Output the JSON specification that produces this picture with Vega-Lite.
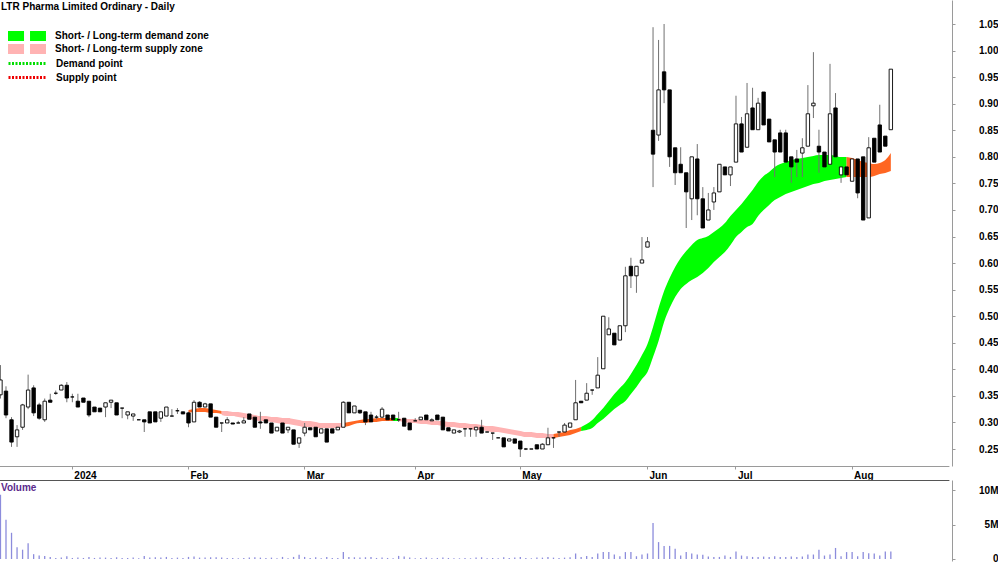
{
"$schema":"https://vega.github.io/schema/vega-lite/v6.json",
"padding":0,
"background":"#ffffff",
"spacing":0,
"config":{"view":{"stroke":null},"font":"Liberation Sans","axis":{"labelFont":"Liberation Sans","labelFontWeight":"bold","labelFontSize":10,"labelColor":"#000000","grid":false,"title":null,"labelOverlap":false},"legend":{"labelFont":"Liberation Sans","labelFontSize":10,"labelFontWeight":"bold","labelColor":"#000000","labelLimit":400,"titleLimit":400}},
"datasets":{
"px":[
{"d":"2023-12-11","o":0.352,"h":0.408,"l":0.345,"c":0.380,"v":9300000},
{"d":"2023-12-12","o":0.359,"h":0.368,"l":0.308,"c":0.314,"v":5700000},
{"d":"2023-12-13","o":0.305,"h":0.310,"l":0.254,"c":0.263,"v":3800000},
{"d":"2023-12-14","o":0.273,"h":0.295,"l":0.254,"c":0.286,"v":1700000},
{"d":"2023-12-15","o":0.291,"h":0.335,"l":0.286,"c":0.333,"v":1350000},
{"d":"2023-12-18","o":0.329,"h":0.390,"l":0.325,"c":0.361,"v":2300000},
{"d":"2023-12-19","o":0.365,"h":0.370,"l":0.312,"c":0.318,"v":700000},
{"d":"2023-12-20","o":0.333,"h":0.337,"l":0.305,"c":0.308,"v":500000},
{"d":"2023-12-21","o":0.305,"h":0.345,"l":0.301,"c":0.340,"v":450000},
{"d":"2023-12-22","o":0.342,"h":0.354,"l":0.338,"c":0.338,"v":300000},
{"d":"2023-12-27","o":0.355,"h":0.360,"l":0.352,"c":0.355,"v":150000},
{"d":"2023-12-28","o":0.361,"h":0.372,"l":0.361,"c":0.370,"v":200000},
{"d":"2023-12-29","o":0.370,"h":0.376,"l":0.338,"c":0.346,"v":400000},
{"d":"2024-01-02","o":0.348,"h":0.354,"l":0.338,"c":0.348,"v":150000},
{"d":"2024-01-03","o":0.340,"h":0.354,"l":0.329,"c":0.329,"v":200000},
{"d":"2024-01-04","o":0.346,"h":0.346,"l":0.338,"c":0.338,"v":150000},
{"d":"2024-01-05","o":0.340,"h":0.340,"l":0.310,"c":0.314,"v":300000},
{"d":"2024-01-08","o":0.329,"h":0.329,"l":0.320,"c":0.320,"v":150000},
{"d":"2024-01-09","o":0.327,"h":0.327,"l":0.320,"c":0.320,"v":200000},
{"d":"2024-01-10","o":0.329,"h":0.337,"l":0.310,"c":0.337,"v":200000},
{"d":"2024-01-11","o":0.338,"h":0.342,"l":0.327,"c":0.342,"v":150000},
{"d":"2024-01-12","o":0.337,"h":0.337,"l":0.314,"c":0.314,"v":250000},
{"d":"2024-01-15","o":0.327,"h":0.327,"l":0.308,"c":0.327,"v":150000},
{"d":"2024-01-16","o":0.314,"h":0.320,"l":0.306,"c":0.320,"v":150000},
{"d":"2024-01-17","o":0.312,"h":0.316,"l":0.303,"c":0.316,"v":200000},
{"d":"2024-01-18","o":0.305,"h":0.305,"l":0.305,"c":0.305,"v":100000},
{"d":"2024-01-19","o":0.305,"h":0.305,"l":0.282,"c":0.301,"v":450000},
{"d":"2024-01-22","o":0.320,"h":0.320,"l":0.299,"c":0.299,"v":200000},
{"d":"2024-01-23","o":0.320,"h":0.320,"l":0.301,"c":0.301,"v":250000},
{"d":"2024-01-24","o":0.308,"h":0.320,"l":0.301,"c":0.320,"v":200000},
{"d":"2024-01-25","o":0.312,"h":0.329,"l":0.312,"c":0.329,"v":300000},
{"d":"2024-01-29","o":0.312,"h":0.325,"l":0.312,"c":0.312,"v":150000},
{"d":"2024-01-30","o":0.322,"h":0.327,"l":0.316,"c":0.322,"v":200000},
{"d":"2024-01-31","o":0.320,"h":0.320,"l":0.316,"c":0.316,"v":150000},
{"d":"2024-02-01","o":0.318,"h":0.320,"l":0.291,"c":0.299,"v":300000},
{"d":"2024-02-02","o":0.301,"h":0.342,"l":0.301,"c":0.338,"v":350000},
{"d":"2024-02-05","o":0.338,"h":0.340,"l":0.329,"c":0.329,"v":200000},
{"d":"2024-02-06","o":0.329,"h":0.337,"l":0.329,"c":0.335,"v":200000},
{"d":"2024-02-07","o":0.335,"h":0.335,"l":0.310,"c":0.310,"v":250000},
{"d":"2024-02-08","o":0.310,"h":0.310,"l":0.291,"c":0.291,"v":250000},
{"d":"2024-02-09","o":0.299,"h":0.299,"l":0.282,"c":0.299,"v":200000},
{"d":"2024-02-12","o":0.299,"h":0.310,"l":0.299,"c":0.305,"v":150000},
{"d":"2024-02-13","o":0.299,"h":0.299,"l":0.297,"c":0.297,"v":150000},
{"d":"2024-02-14","o":0.299,"h":0.303,"l":0.299,"c":0.299,"v":100000},
{"d":"2024-02-15","o":0.299,"h":0.310,"l":0.299,"c":0.303,"v":150000},
{"d":"2024-02-16","o":0.316,"h":0.316,"l":0.306,"c":0.306,"v":200000},
{"d":"2024-02-19","o":0.310,"h":0.310,"l":0.291,"c":0.291,"v":250000},
{"d":"2024-02-20","o":0.301,"h":0.320,"l":0.288,"c":0.299,"v":200000},
{"d":"2024-02-21","o":0.305,"h":0.305,"l":0.299,"c":0.299,"v":150000},
{"d":"2024-02-22","o":0.299,"h":0.299,"l":0.280,"c":0.280,"v":200000},
{"d":"2024-02-23","o":0.284,"h":0.291,"l":0.284,"c":0.291,"v":100000},
{"d":"2024-02-26","o":0.299,"h":0.299,"l":0.280,"c":0.280,"v":300000},
{"d":"2024-02-27","o":0.286,"h":0.291,"l":0.280,"c":0.291,"v":100000},
{"d":"2024-02-28","o":0.286,"h":0.286,"l":0.259,"c":0.259,"v":300000},
{"d":"2024-02-29","o":0.261,"h":0.271,"l":0.252,"c":0.271,"v":600000},
{"d":"2024-03-01","o":0.280,"h":0.299,"l":0.274,"c":0.291,"v":300000},
{"d":"2024-03-04","o":0.290,"h":0.290,"l":0.286,"c":0.286,"v":150000},
{"d":"2024-03-05","o":0.291,"h":0.291,"l":0.273,"c":0.273,"v":250000},
{"d":"2024-03-06","o":0.280,"h":0.288,"l":0.280,"c":0.288,"v":100000},
{"d":"2024-03-07","o":0.288,"h":0.288,"l":0.263,"c":0.263,"v":300000},
{"d":"2024-03-08","o":0.288,"h":0.288,"l":0.280,"c":0.280,"v":150000},
{"d":"2024-03-11","o":0.286,"h":0.291,"l":0.286,"c":0.291,"v":150000},
{"d":"2024-03-12","o":0.291,"h":0.340,"l":0.291,"c":0.338,"v":1000000},
{"d":"2024-03-13","o":0.338,"h":0.338,"l":0.318,"c":0.318,"v":300000},
{"d":"2024-03-14","o":0.318,"h":0.331,"l":0.318,"c":0.331,"v":250000},
{"d":"2024-03-15","o":0.323,"h":0.323,"l":0.316,"c":0.318,"v":200000},
{"d":"2024-03-18","o":0.320,"h":0.320,"l":0.295,"c":0.301,"v":250000},
{"d":"2024-03-19","o":0.314,"h":0.320,"l":0.301,"c":0.301,"v":300000},
{"d":"2024-03-20","o":0.310,"h":0.314,"l":0.306,"c":0.310,"v":150000},
{"d":"2024-03-21","o":0.310,"h":0.329,"l":0.308,"c":0.325,"v":200000},
{"d":"2024-03-22","o":0.314,"h":0.314,"l":0.305,"c":0.305,"v":150000},
{"d":"2024-03-25","o":0.314,"h":0.314,"l":0.305,"c":0.305,"v":100000},
{"d":"2024-03-26","o":0.305,"h":0.320,"l":0.301,"c":0.305,"v":450000},
{"d":"2024-03-27","o":0.308,"h":0.308,"l":0.293,"c":0.293,"v":350000},
{"d":"2024-03-28","o":0.299,"h":0.299,"l":0.286,"c":0.286,"v":200000},
{"d":"2024-04-02","o":0.303,"h":0.308,"l":0.303,"c":0.303,"v":100000},
{"d":"2024-04-03","o":0.305,"h":0.310,"l":0.305,"c":0.310,"v":150000},
{"d":"2024-04-04","o":0.314,"h":0.314,"l":0.305,"c":0.305,"v":200000},
{"d":"2024-04-05","o":0.303,"h":0.308,"l":0.303,"c":0.305,"v":100000},
{"d":"2024-04-08","o":0.314,"h":0.314,"l":0.305,"c":0.305,"v":150000},
{"d":"2024-04-09","o":0.310,"h":0.310,"l":0.286,"c":0.286,"v":200000},
{"d":"2024-04-10","o":0.290,"h":0.290,"l":0.284,"c":0.284,"v":150000},
{"d":"2024-04-11","o":0.280,"h":0.286,"l":0.280,"c":0.286,"v":100000},
{"d":"2024-04-12","o":0.282,"h":0.286,"l":0.280,"c":0.284,"v":100000},
{"d":"2024-04-15","o":0.288,"h":0.288,"l":0.273,"c":0.288,"v":150000},
{"d":"2024-04-16","o":0.288,"h":0.288,"l":0.273,"c":0.288,"v":100000},
{"d":"2024-04-17","o":0.286,"h":0.291,"l":0.273,"c":0.291,"v":200000},
{"d":"2024-04-18","o":0.291,"h":0.305,"l":0.280,"c":0.280,"v":250000},
{"d":"2024-04-19","o":0.282,"h":0.282,"l":0.282,"c":0.282,"v":100000},
{"d":"2024-04-22","o":0.280,"h":0.280,"l":0.267,"c":0.280,"v":150000},
{"d":"2024-04-23","o":0.271,"h":0.271,"l":0.271,"c":0.271,"v":100000},
{"d":"2024-04-24","o":0.271,"h":0.271,"l":0.254,"c":0.254,"v":250000},
{"d":"2024-04-26","o":0.265,"h":0.269,"l":0.265,"c":0.269,"v":150000},
{"d":"2024-04-29","o":0.269,"h":0.269,"l":0.261,"c":0.261,"v":200000},
{"d":"2024-05-01","o":0.265,"h":0.265,"l":0.235,"c":0.250,"v":300000},
{"d":"2024-05-02","o":0.250,"h":0.252,"l":0.248,"c":0.250,"v":150000},
{"d":"2024-05-03","o":0.250,"h":0.250,"l":0.250,"c":0.250,"v":100000},
{"d":"2024-05-06","o":0.258,"h":0.258,"l":0.250,"c":0.250,"v":200000},
{"d":"2024-05-07","o":0.250,"h":0.261,"l":0.250,"c":0.259,"v":200000},
{"d":"2024-05-08","o":0.258,"h":0.290,"l":0.258,"c":0.271,"v":300000},
{"d":"2024-05-09","o":0.271,"h":0.271,"l":0.252,"c":0.271,"v":200000},
{"d":"2024-05-10","o":0.282,"h":0.282,"l":0.273,"c":0.282,"v":150000},
{"d":"2024-05-13","o":0.282,"h":0.299,"l":0.282,"c":0.295,"v":200000},
{"d":"2024-05-14","o":0.291,"h":0.299,"l":0.291,"c":0.299,"v":250000},
{"d":"2024-05-15","o":0.305,"h":0.380,"l":0.305,"c":0.337,"v":800000},
{"d":"2024-05-16","o":0.340,"h":0.340,"l":0.337,"c":0.337,"v":300000},
{"d":"2024-05-17","o":0.342,"h":0.374,"l":0.342,"c":0.355,"v":450000},
{"d":"2024-05-20","o":0.361,"h":0.361,"l":0.352,"c":0.361,"v":300000},
{"d":"2024-05-21","o":0.365,"h":0.423,"l":0.365,"c":0.389,"v":800000},
{"d":"2024-05-22","o":0.401,"h":0.500,"l":0.401,"c":0.500,"v":1000000},
{"d":"2024-05-23","o":0.465,"h":0.498,"l":0.465,"c":0.476,"v":1000000},
{"d":"2024-05-24","o":0.468,"h":0.468,"l":0.446,"c":0.446,"v":650000},
{"d":"2024-05-27","o":0.455,"h":0.482,"l":0.455,"c":0.482,"v":400000},
{"d":"2024-05-28","o":0.482,"h":0.593,"l":0.470,"c":0.576,"v":1000000},
{"d":"2024-05-29","o":0.594,"h":0.610,"l":0.553,"c":0.576,"v":1000000},
{"d":"2024-05-30","o":0.576,"h":0.594,"l":0.544,"c":0.594,"v":400000},
{"d":"2024-05-31","o":0.600,"h":0.649,"l":0.600,"c":0.606,"v":650000},
{"d":"2024-06-03","o":0.630,"h":0.649,"l":0.630,"c":0.640,"v":800000},
{"d":"2024-06-04","o":0.850,"h":1.044,"l":0.743,"c":0.805,"v":5200000},
{"d":"2024-06-05","o":0.841,"h":1.020,"l":0.830,"c":0.926,"v":2450000},
{"d":"2024-06-06","o":0.960,"h":1.050,"l":0.901,"c":0.926,"v":1900000},
{"d":"2024-06-07","o":0.926,"h":0.926,"l":0.781,"c":0.800,"v":1900000},
{"d":"2024-06-11","o":0.817,"h":0.817,"l":0.747,"c":0.770,"v":1500000},
{"d":"2024-06-12","o":0.786,"h":0.818,"l":0.770,"c":0.770,"v":500000},
{"d":"2024-06-13","o":0.770,"h":0.770,"l":0.666,"c":0.734,"v":1000000},
{"d":"2024-06-14","o":0.721,"h":0.800,"l":0.681,"c":0.800,"v":800000},
{"d":"2024-06-17","o":0.796,"h":0.824,"l":0.690,"c":0.721,"v":650000},
{"d":"2024-06-18","o":0.721,"h":0.743,"l":0.666,"c":0.666,"v":600000},
{"d":"2024-06-19","o":0.681,"h":0.732,"l":0.681,"c":0.700,"v":350000},
{"d":"2024-06-20","o":0.715,"h":0.743,"l":0.700,"c":0.732,"v":300000},
{"d":"2024-06-21","o":0.734,"h":0.786,"l":0.734,"c":0.786,"v":300000},
{"d":"2024-06-24","o":0.781,"h":0.781,"l":0.766,"c":0.766,"v":500000},
{"d":"2024-06-25","o":0.766,"h":0.781,"l":0.745,"c":0.781,"v":300000},
{"d":"2024-07-01","o":0.790,"h":0.915,"l":0.790,"c":0.862,"v":1100000},
{"d":"2024-07-02","o":0.862,"h":0.875,"l":0.809,"c":0.809,"v":500000},
{"d":"2024-07-03","o":0.818,"h":0.939,"l":0.818,"c":0.881,"v":400000},
{"d":"2024-07-04","o":0.892,"h":0.930,"l":0.851,"c":0.851,"v":300000},
{"d":"2024-07-05","o":0.851,"h":0.911,"l":0.851,"c":0.901,"v":300000},
{"d":"2024-07-08","o":0.922,"h":0.922,"l":0.860,"c":0.860,"v":350000},
{"d":"2024-07-09","o":0.871,"h":0.871,"l":0.828,"c":0.828,"v":300000},
{"d":"2024-07-10","o":0.832,"h":0.832,"l":0.762,"c":0.809,"v":400000},
{"d":"2024-07-11","o":0.845,"h":0.851,"l":0.809,"c":0.809,"v":300000},
{"d":"2024-07-12","o":0.845,"h":0.851,"l":0.790,"c":0.790,"v":300000},
{"d":"2024-07-15","o":0.800,"h":0.800,"l":0.751,"c":0.781,"v":350000},
{"d":"2024-07-16","o":0.796,"h":0.813,"l":0.762,"c":0.790,"v":300000},
{"d":"2024-07-17","o":0.807,"h":0.835,"l":0.762,"c":0.817,"v":350000},
{"d":"2024-07-18","o":0.820,"h":0.935,"l":0.820,"c":0.881,"v":650000},
{"d":"2024-07-19","o":0.896,"h":0.997,"l":0.873,"c":0.901,"v":650000},
{"d":"2024-07-22","o":0.820,"h":0.851,"l":0.770,"c":0.809,"v":1350000},
{"d":"2024-07-23","o":0.809,"h":0.809,"l":0.781,"c":0.781,"v":500000},
{"d":"2024-07-24","o":0.786,"h":0.975,"l":0.786,"c":0.881,"v":650000},
{"d":"2024-07-25","o":0.892,"h":0.920,"l":0.800,"c":0.800,"v":1600000},
{"d":"2024-07-26","o":0.766,"h":0.781,"l":0.751,"c":0.781,"v":400000},
{"d":"2024-07-29","o":0.781,"h":0.781,"l":0.766,"c":0.766,"v":1000000},
{"d":"2024-08-01","o":0.754,"h":0.796,"l":0.754,"c":0.796,"v":1000000},
{"d":"2024-08-02","o":0.796,"h":0.796,"l":0.722,"c":0.732,"v":400000},
{"d":"2024-08-05","o":0.800,"h":0.800,"l":0.681,"c":0.681,"v":1000000},
{"d":"2024-08-06","o":0.685,"h":0.837,"l":0.685,"c":0.817,"v":850000},
{"d":"2024-08-07","o":0.835,"h":0.835,"l":0.790,"c":0.790,"v":800000},
{"d":"2024-08-08","o":0.860,"h":0.898,"l":0.809,"c":0.809,"v":500000},
{"d":"2024-08-09","o":0.839,"h":0.839,"l":0.820,"c":0.820,"v":1100000},
{"d":"2024-08-12","o":0.851,"h":0.965,"l":0.851,"c":0.965,"v":1100000}
],
"band":[
{"d":"2024-02-01","lo":0.3178,"hi":0.3234,"s":1,"z":"Long-term supply"},
{"d":"2024-02-02","lo":0.3197,"hi":0.3253,"s":1,"z":"Long-term supply"},
{"d":"2024-02-05","lo":0.3197,"hi":0.3272,"s":1,"z":"Long-term supply"},
{"d":"2024-02-06","lo":0.3197,"hi":0.3272,"s":1,"z":"Long-term supply"},
{"d":"2024-02-07","lo":0.3178,"hi":0.3253,"s":1,"z":"Long-term supply"},
{"d":"2024-02-08","lo":0.3178,"hi":0.3234,"s":1,"z":"Long-term supply"},
{"d":"2024-02-09","lo":0.3159,"hi":0.3215,"s":1,"z":"Long-term supply"},
{"d":"2024-02-09","lo":0.3140,"hi":0.3215,"s":2,"z":"Short-term supply"},
{"d":"2024-02-12","lo":0.3121,"hi":0.3215,"s":2,"z":"Short-term supply"},
{"d":"2024-02-13","lo":0.3121,"hi":0.3197,"s":2,"z":"Short-term supply"},
{"d":"2024-02-14","lo":0.3102,"hi":0.3197,"s":2,"z":"Short-term supply"},
{"d":"2024-02-15","lo":0.3084,"hi":0.3178,"s":2,"z":"Short-term supply"},
{"d":"2024-02-16","lo":0.3065,"hi":0.3159,"s":2,"z":"Short-term supply"},
{"d":"2024-02-19","lo":0.3046,"hi":0.3140,"s":2,"z":"Short-term supply"},
{"d":"2024-02-20","lo":0.3027,"hi":0.3121,"s":2,"z":"Short-term supply"},
{"d":"2024-02-21","lo":0.3027,"hi":0.3121,"s":2,"z":"Short-term supply"},
{"d":"2024-02-22","lo":0.3008,"hi":0.3102,"s":2,"z":"Short-term supply"},
{"d":"2024-02-23","lo":0.2989,"hi":0.3102,"s":2,"z":"Short-term supply"},
{"d":"2024-02-26","lo":0.2971,"hi":0.3084,"s":2,"z":"Short-term supply"},
{"d":"2024-02-27","lo":0.2971,"hi":0.3084,"s":2,"z":"Short-term supply"},
{"d":"2024-02-28","lo":0.2952,"hi":0.3065,"s":2,"z":"Short-term supply"},
{"d":"2024-02-29","lo":0.2933,"hi":0.3046,"s":2,"z":"Short-term supply"},
{"d":"2024-03-01","lo":0.2914,"hi":0.3027,"s":2,"z":"Short-term supply"},
{"d":"2024-03-04","lo":0.2914,"hi":0.3027,"s":2,"z":"Short-term supply"},
{"d":"2024-03-05","lo":0.2895,"hi":0.3008,"s":2,"z":"Short-term supply"},
{"d":"2024-03-06","lo":0.2895,"hi":0.2989,"s":2,"z":"Short-term supply"},
{"d":"2024-03-07","lo":0.2895,"hi":0.2989,"s":2,"z":"Short-term supply"},
{"d":"2024-03-08","lo":0.2895,"hi":0.2989,"s":2,"z":"Short-term supply"},
{"d":"2024-03-11","lo":0.2895,"hi":0.2989,"s":2,"z":"Short-term supply"},
{"d":"2024-03-12","lo":0.2914,"hi":0.2989,"s":2,"z":"Short-term supply"},
{"d":"2024-03-12","lo":0.2914,"hi":0.2989,"s":3,"z":"Long-term supply"},
{"d":"2024-03-13","lo":0.2933,"hi":0.3008,"s":3,"z":"Long-term supply"},
{"d":"2024-03-14","lo":0.2971,"hi":0.3027,"s":3,"z":"Long-term supply"},
{"d":"2024-03-15","lo":0.2989,"hi":0.3046,"s":3,"z":"Long-term supply"},
{"d":"2024-03-18","lo":0.2989,"hi":0.3065,"s":3,"z":"Long-term supply"},
{"d":"2024-03-19","lo":0.3008,"hi":0.3065,"s":3,"z":"Long-term supply"},
{"d":"2024-03-20","lo":0.3008,"hi":0.3084,"s":3,"z":"Long-term supply"},
{"d":"2024-03-21","lo":0.3027,"hi":0.3084,"s":3,"z":"Long-term supply"},
{"d":"2024-03-22","lo":0.3027,"hi":0.3084,"s":3,"z":"Long-term supply"},
{"d":"2024-03-25","lo":0.3027,"hi":0.3084,"s":3,"z":"Long-term supply"},
{"d":"2024-03-25","lo":0.3027,"hi":0.3084,"s":4,"z":"Short-term demand"},
{"d":"2024-03-26","lo":0.3027,"hi":0.3084,"s":4,"z":"Short-term demand"},
{"d":"2024-03-26","lo":0.3027,"hi":0.3084,"s":5,"z":"Short-term supply"},
{"d":"2024-03-27","lo":0.3008,"hi":0.3065,"s":5,"z":"Short-term supply"},
{"d":"2024-03-28","lo":0.2989,"hi":0.3065,"s":5,"z":"Short-term supply"},
{"d":"2024-04-02","lo":0.2989,"hi":0.3065,"s":5,"z":"Short-term supply"},
{"d":"2024-04-03","lo":0.2971,"hi":0.3046,"s":5,"z":"Short-term supply"},
{"d":"2024-04-04","lo":0.2971,"hi":0.3046,"s":5,"z":"Short-term supply"},
{"d":"2024-04-05","lo":0.2952,"hi":0.3046,"s":5,"z":"Short-term supply"},
{"d":"2024-04-08","lo":0.2952,"hi":0.3027,"s":5,"z":"Short-term supply"},
{"d":"2024-04-09","lo":0.2933,"hi":0.3027,"s":5,"z":"Short-term supply"},
{"d":"2024-04-10","lo":0.2914,"hi":0.3008,"s":5,"z":"Short-term supply"},
{"d":"2024-04-11","lo":0.2914,"hi":0.3008,"s":5,"z":"Short-term supply"},
{"d":"2024-04-12","lo":0.2895,"hi":0.2989,"s":5,"z":"Short-term supply"},
{"d":"2024-04-15","lo":0.2895,"hi":0.2989,"s":5,"z":"Short-term supply"},
{"d":"2024-04-16","lo":0.2877,"hi":0.2971,"s":5,"z":"Short-term supply"},
{"d":"2024-04-17","lo":0.2858,"hi":0.2971,"s":5,"z":"Short-term supply"},
{"d":"2024-04-18","lo":0.2858,"hi":0.2952,"s":5,"z":"Short-term supply"},
{"d":"2024-04-19","lo":0.2839,"hi":0.2933,"s":5,"z":"Short-term supply"},
{"d":"2024-04-22","lo":0.2820,"hi":0.2933,"s":5,"z":"Short-term supply"},
{"d":"2024-04-23","lo":0.2820,"hi":0.2914,"s":5,"z":"Short-term supply"},
{"d":"2024-04-24","lo":0.2801,"hi":0.2895,"s":5,"z":"Short-term supply"},
{"d":"2024-04-26","lo":0.2782,"hi":0.2877,"s":5,"z":"Short-term supply"},
{"d":"2024-04-29","lo":0.2764,"hi":0.2858,"s":5,"z":"Short-term supply"},
{"d":"2024-05-01","lo":0.2745,"hi":0.2839,"s":5,"z":"Short-term supply"},
{"d":"2024-05-02","lo":0.2726,"hi":0.2820,"s":5,"z":"Short-term supply"},
{"d":"2024-05-03","lo":0.2726,"hi":0.2820,"s":5,"z":"Short-term supply"},
{"d":"2024-05-06","lo":0.2707,"hi":0.2801,"s":5,"z":"Short-term supply"},
{"d":"2024-05-07","lo":0.2707,"hi":0.2801,"s":5,"z":"Short-term supply"},
{"d":"2024-05-08","lo":0.2707,"hi":0.2782,"s":5,"z":"Short-term supply"},
{"d":"2024-05-09","lo":0.2707,"hi":0.2782,"s":5,"z":"Short-term supply"},
{"d":"2024-05-09","lo":0.2707,"hi":0.2782,"s":6,"z":"Long-term supply"},
{"d":"2024-05-10","lo":0.2726,"hi":0.2801,"s":6,"z":"Long-term supply"},
{"d":"2024-05-13","lo":0.2745,"hi":0.2820,"s":6,"z":"Long-term supply"},
{"d":"2024-05-14","lo":0.2764,"hi":0.2858,"s":6,"z":"Long-term supply"},
{"d":"2024-05-15","lo":0.2801,"hi":0.2877,"s":6,"z":"Long-term supply"},
{"d":"2024-05-16","lo":0.2839,"hi":0.2914,"s":6,"z":"Long-term supply"},
{"d":"2024-05-16","lo":0.2839,"hi":0.2914,"s":7,"z":"Short-term demand"},
{"d":"2024-05-17","lo":0.2858,"hi":0.2971,"s":7,"z":"Short-term demand"},
{"d":"2024-05-20","lo":0.2895,"hi":0.3046,"s":7,"z":"Short-term demand"},
{"d":"2024-05-21","lo":0.2989,"hi":0.3159,"s":7,"z":"Short-term demand"},
{"d":"2024-05-22","lo":0.3065,"hi":0.3272,"s":7,"z":"Short-term demand"},
{"d":"2024-05-23","lo":0.3159,"hi":0.3404,"s":7,"z":"Short-term demand"},
{"d":"2024-05-24","lo":0.3253,"hi":0.3535,"s":7,"z":"Short-term demand"},
{"d":"2024-05-27","lo":0.3328,"hi":0.3648,"s":7,"z":"Short-term demand"},
{"d":"2024-05-28","lo":0.3404,"hi":0.3761,"s":7,"z":"Short-term demand"},
{"d":"2024-05-29","lo":0.3535,"hi":0.3912,"s":7,"z":"Short-term demand"},
{"d":"2024-05-30","lo":0.3667,"hi":0.4081,"s":7,"z":"Short-term demand"},
{"d":"2024-05-31","lo":0.3818,"hi":0.4270,"s":7,"z":"Short-term demand"},
{"d":"2024-06-03","lo":0.3950,"hi":0.4477,"s":7,"z":"Short-term demand"},
{"d":"2024-06-04","lo":0.4232,"hi":0.4797,"s":7,"z":"Short-term demand"},
{"d":"2024-06-05","lo":0.4533,"hi":0.5154,"s":7,"z":"Short-term demand"},
{"d":"2024-06-06","lo":0.4891,"hi":0.5474,"s":7,"z":"Short-term demand"},
{"d":"2024-06-07","lo":0.5154,"hi":0.5719,"s":7,"z":"Short-term demand"},
{"d":"2024-06-11","lo":0.5361,"hi":0.5926,"s":7,"z":"Short-term demand"},
{"d":"2024-06-12","lo":0.5512,"hi":0.6095,"s":7,"z":"Short-term demand"},
{"d":"2024-06-13","lo":0.5606,"hi":0.6227,"s":7,"z":"Short-term demand"},
{"d":"2024-06-14","lo":0.5681,"hi":0.6340,"s":7,"z":"Short-term demand"},
{"d":"2024-06-17","lo":0.5738,"hi":0.6434,"s":7,"z":"Short-term demand"},
{"d":"2024-06-18","lo":0.5813,"hi":0.6472,"s":7,"z":"Short-term demand"},
{"d":"2024-06-19","lo":0.5907,"hi":0.6510,"s":7,"z":"Short-term demand"},
{"d":"2024-06-20","lo":0.6020,"hi":0.6585,"s":7,"z":"Short-term demand"},
{"d":"2024-06-21","lo":0.6114,"hi":0.6660,"s":7,"z":"Short-term demand"},
{"d":"2024-06-24","lo":0.6208,"hi":0.6754,"s":7,"z":"Short-term demand"},
{"d":"2024-06-25","lo":0.6340,"hi":0.6886,"s":7,"z":"Short-term demand"},
{"d":"2024-07-01","lo":0.6491,"hi":0.6999,"s":7,"z":"Short-term demand"},
{"d":"2024-07-02","lo":0.6585,"hi":0.7112,"s":7,"z":"Short-term demand"},
{"d":"2024-07-03","lo":0.6679,"hi":0.7244,"s":7,"z":"Short-term demand"},
{"d":"2024-07-04","lo":0.6735,"hi":0.7375,"s":7,"z":"Short-term demand"},
{"d":"2024-07-05","lo":0.6886,"hi":0.7526,"s":7,"z":"Short-term demand"},
{"d":"2024-07-08","lo":0.6999,"hi":0.7639,"s":7,"z":"Short-term demand"},
{"d":"2024-07-09","lo":0.7093,"hi":0.7714,"s":7,"z":"Short-term demand"},
{"d":"2024-07-10","lo":0.7187,"hi":0.7808,"s":7,"z":"Short-term demand"},
{"d":"2024-07-11","lo":0.7244,"hi":0.7865,"s":7,"z":"Short-term demand"},
{"d":"2024-07-12","lo":0.7300,"hi":0.7903,"s":7,"z":"Short-term demand"},
{"d":"2024-07-15","lo":0.7338,"hi":0.7940,"s":7,"z":"Short-term demand"},
{"d":"2024-07-16","lo":0.7375,"hi":0.7959,"s":7,"z":"Short-term demand"},
{"d":"2024-07-17","lo":0.7413,"hi":0.7978,"s":7,"z":"Short-term demand"},
{"d":"2024-07-18","lo":0.7451,"hi":0.7997,"s":7,"z":"Short-term demand"},
{"d":"2024-07-19","lo":0.7488,"hi":0.8016,"s":7,"z":"Short-term demand"},
{"d":"2024-07-22","lo":0.7507,"hi":0.8034,"s":7,"z":"Short-term demand"},
{"d":"2024-07-23","lo":0.7545,"hi":0.8034,"s":7,"z":"Short-term demand"},
{"d":"2024-07-24","lo":0.7564,"hi":0.8034,"s":7,"z":"Short-term demand"},
{"d":"2024-07-25","lo":0.7583,"hi":0.8016,"s":7,"z":"Short-term demand"},
{"d":"2024-07-26","lo":0.7601,"hi":0.7997,"s":7,"z":"Short-term demand"},
{"d":"2024-07-29","lo":0.7620,"hi":0.7997,"s":7,"z":"Short-term demand"},
{"d":"2024-07-29","lo":0.7620,"hi":0.7997,"s":8,"z":"Long-term supply"},
{"d":"2024-08-01","lo":0.7620,"hi":0.7978,"s":8,"z":"Long-term supply"},
{"d":"2024-08-02","lo":0.7620,"hi":0.7940,"s":8,"z":"Long-term supply"},
{"d":"2024-08-05","lo":0.7620,"hi":0.7903,"s":8,"z":"Long-term supply"},
{"d":"2024-08-06","lo":0.7620,"hi":0.7884,"s":8,"z":"Long-term supply"},
{"d":"2024-08-07","lo":0.7639,"hi":0.7865,"s":8,"z":"Long-term supply"},
{"d":"2024-08-08","lo":0.7677,"hi":0.7884,"s":8,"z":"Long-term supply"},
{"d":"2024-08-09","lo":0.7695,"hi":0.7940,"s":8,"z":"Long-term supply"},
{"d":"2024-08-12","lo":0.7733,"hi":0.8072,"s":8,"z":"Long-term supply"}
],
"points":[]
},
"vconcat":[
{
"width":952,"height":466,
"encoding":{
"x":{"field":"d","type":"ordinal",
"scale":{"domain":["2023-12-11","2023-12-12","2023-12-13","2023-12-14","2023-12-15","2023-12-18","2023-12-19","2023-12-20","2023-12-21","2023-12-22","2023-12-27","2023-12-28","2023-12-29","2024-01-02","2024-01-03","2024-01-04","2024-01-05","2024-01-08","2024-01-09","2024-01-10","2024-01-11","2024-01-12","2024-01-15","2024-01-16","2024-01-17","2024-01-18","2024-01-19","2024-01-22","2024-01-23","2024-01-24","2024-01-25","2024-01-29","2024-01-30","2024-01-31","2024-02-01","2024-02-02","2024-02-05","2024-02-06","2024-02-07","2024-02-08","2024-02-09","2024-02-12","2024-02-13","2024-02-14","2024-02-15","2024-02-16","2024-02-19","2024-02-20","2024-02-21","2024-02-22","2024-02-23","2024-02-26","2024-02-27","2024-02-28","2024-02-29","2024-03-01","2024-03-04","2024-03-05","2024-03-06","2024-03-07","2024-03-08","2024-03-11","2024-03-12","2024-03-13","2024-03-14","2024-03-15","2024-03-18","2024-03-19","2024-03-20","2024-03-21","2024-03-22","2024-03-25","2024-03-26","2024-03-27","2024-03-28","2024-04-02","2024-04-03","2024-04-04","2024-04-05","2024-04-08","2024-04-09","2024-04-10","2024-04-11","2024-04-12","2024-04-15","2024-04-16","2024-04-17","2024-04-18","2024-04-19","2024-04-22","2024-04-23","2024-04-24","2024-04-26","2024-04-29","2024-05-01","2024-05-02","2024-05-03","2024-05-06","2024-05-07","2024-05-08","2024-05-09","2024-05-10","2024-05-13","2024-05-14","2024-05-15","2024-05-16","2024-05-17","2024-05-20","2024-05-21","2024-05-22","2024-05-23","2024-05-24","2024-05-27","2024-05-28","2024-05-29","2024-05-30","2024-05-31","2024-06-03","2024-06-04","2024-06-05","2024-06-06","2024-06-07","2024-06-11","2024-06-12","2024-06-13","2024-06-14","2024-06-17","2024-06-18","2024-06-19","2024-06-20","2024-06-21","2024-06-24","2024-06-25","2024-07-01","2024-07-02","2024-07-03","2024-07-04","2024-07-05","2024-07-08","2024-07-09","2024-07-10","2024-07-11","2024-07-12","2024-07-15","2024-07-16","2024-07-17","2024-07-18","2024-07-19","2024-07-22","2024-07-23","2024-07-24","2024-07-25","2024-07-26","2024-07-29","2024-08-01","2024-08-02","2024-08-05","2024-08-06","2024-08-07","2024-08-08","2024-08-09","2024-08-12","2024-08-13","2024-08-14","2024-08-15","2024-08-16","2024-08-19","2024-08-20","2024-08-21","2024-08-22","2024-08-23","2024-08-26"],"range":[-2.3,948.9],"paddingInner":0,"paddingOuter":0},
"axis":{"orient":"bottom","values":["2024-01-02","2024-02-01","2024-03-01","2024-04-02","2024-05-01","2024-06-03","2024-07-01","2024-08-01"],"labelExpr":"['2024','Feb','Mar','Apr','May','Jun','Jul','Aug'][toNumber(substring(datum.value,5,7))-1]","labelAlign":"left","labelOffset":2,"labelPadding":1,"labelBaseline":"top","labelAngle":0,"labelOverlap":false,"tickSize":3,"tickColor":"#9a9a9a","domainColor":"#9a9a9a"}}
},
"layer":[
{"data":{"name":"band"},"mark":{"type":"area","interpolate":"monotone","opacity":1,"clip":true},
"encoding":{
"y":{"field":"lo","type":"quantitative","stack":null,"scale":{"domain":[0.218,1.0952],"nice":false,"zero":false},"axis":{"orient":"right","values":[0.25,0.3,0.35,0.4,0.45,0.5,0.55,0.6,0.65,0.7,0.75,0.8,0.85,0.9,0.95,1.0,1.05],"format":".2f","tickSize":3,"tickColor":"#9a9a9a","domainColor":"#9a9a9a","labelAlign":"right","labelPadding":43,"labelBaseline":"middle","labelOverlap":false}},
"y2":{"field":"hi"},
"detail":{"field":"s","type":"nominal"},
"fill":{"field":"z","type":"nominal",
"scale":{"domain":["Short-term demand","Short-term supply","Long-term supply"],"range":["#00ff00","#ffb3b3","#ff6622"]},
"legend":{"orient":"none","legendX":1,"legendY":2,"padding":0,
"title":"LTR Pharma Limited Ordinary - Daily","titleFont":"Liberation Sans","titleFontSize":10,"titleFontWeight":"bold","titleColor":"#000000","titlePadding":17,
"values":["Short-term demand","Short-term supply"],
"labelExpr":"datum.label == 'Short-term demand' ? 'Short- / Long-term demand zone' : 'Short- / Long-term supply zone'",
"labelOffset":40,"symbolSize":144,"rowPadding":1,"symbolOpacity":1,
"symbolType":"M0,-0.83H2.67V0.83H0Z M3.67,-0.83H6.33V0.83H3.67Z"
}}
}},
{"data":{"name":"points"},"mark":{"type":"rule","strokeDash":[2,1.5],"strokeWidth":3},
"encoding":{
"y":{"field":"p","type":"quantitative","scale":{"domain":[0.218,1.0952],"nice":false,"zero":false},"axis":{"orient":"right","values":[0.25,0.3,0.35,0.4,0.45,0.5,0.55,0.6,0.65,0.7,0.75,0.8,0.85,0.9,0.95,1.0,1.05],"format":".2f","tickSize":3,"tickColor":"#9a9a9a","domainColor":"#9a9a9a","labelAlign":"right","labelPadding":43,"labelBaseline":"middle","labelOverlap":false}},
"stroke":{"field":"kind","type":"nominal",
"scale":{"domain":["Demand point","Supply point"],"range":["#00dd00","#ee0000"]},
"legend":{"orient":"none","legendX":1,"legendY":56,"padding":0,"title":null,
"labelOffset":40,"symbolSize":144,"rowPadding":-2,"symbolType":"M0,0H6.33","symbolDash":[2,1.5],"symbolStrokeWidth":3,"symbolOpacity":1}}
}},
{"data":{"name":"px"},"mark":{"type":"rule","color":"#707070","strokeWidth":1,"clip":true},
"encoding":{
"y":{"field":"l","type":"quantitative","scale":{"domain":[0.218,1.0952],"nice":false,"zero":false},"axis":{"orient":"right","values":[0.25,0.3,0.35,0.4,0.45,0.5,0.55,0.6,0.65,0.7,0.75,0.8,0.85,0.9,0.95,1.0,1.05],"format":".2f","tickSize":3,"tickColor":"#9a9a9a","domainColor":"#9a9a9a","labelAlign":"right","labelPadding":43,"labelBaseline":"middle","labelOverlap":false}},
"y2":{"field":"h"}
}},
{"data":{"name":"px"},"mark":{"type":"bar","width":3.4,"stroke":"#000000","strokeWidth":0.9,"clip":true},
"encoding":{
"y":{"field":"o","type":"quantitative","scale":{"domain":[0.218,1.0952],"nice":false,"zero":false},"axis":{"orient":"right","values":[0.25,0.3,0.35,0.4,0.45,0.5,0.55,0.6,0.65,0.7,0.75,0.8,0.85,0.9,0.95,1.0,1.05],"format":".2f","tickSize":3,"tickColor":"#9a9a9a","domainColor":"#9a9a9a","labelAlign":"right","labelPadding":43,"labelBaseline":"middle","labelOverlap":false}},
"y2":{"field":"c"},
"fill":{"condition":{"test":"datum.c >= datum.o","value":"#ffffff"},"value":"#000000"}
}}
]
},
{
"width":952,"height":81,
"title":{"text":"Volume","anchor":"start","frame":"group","offset":-13,"dx":1,"fontSize":10,"fontWeight":"bold","color":"#5b2a8c","font":"Liberation Sans"},
"data":{"name":"px"},
"mark":{"type":"bar","width":1.3,"color":"#8c8cdc","clip":true},
"encoding":{
"x":{"field":"d","type":"ordinal",
"scale":{"domain":["2023-12-11","2023-12-12","2023-12-13","2023-12-14","2023-12-15","2023-12-18","2023-12-19","2023-12-20","2023-12-21","2023-12-22","2023-12-27","2023-12-28","2023-12-29","2024-01-02","2024-01-03","2024-01-04","2024-01-05","2024-01-08","2024-01-09","2024-01-10","2024-01-11","2024-01-12","2024-01-15","2024-01-16","2024-01-17","2024-01-18","2024-01-19","2024-01-22","2024-01-23","2024-01-24","2024-01-25","2024-01-29","2024-01-30","2024-01-31","2024-02-01","2024-02-02","2024-02-05","2024-02-06","2024-02-07","2024-02-08","2024-02-09","2024-02-12","2024-02-13","2024-02-14","2024-02-15","2024-02-16","2024-02-19","2024-02-20","2024-02-21","2024-02-22","2024-02-23","2024-02-26","2024-02-27","2024-02-28","2024-02-29","2024-03-01","2024-03-04","2024-03-05","2024-03-06","2024-03-07","2024-03-08","2024-03-11","2024-03-12","2024-03-13","2024-03-14","2024-03-15","2024-03-18","2024-03-19","2024-03-20","2024-03-21","2024-03-22","2024-03-25","2024-03-26","2024-03-27","2024-03-28","2024-04-02","2024-04-03","2024-04-04","2024-04-05","2024-04-08","2024-04-09","2024-04-10","2024-04-11","2024-04-12","2024-04-15","2024-04-16","2024-04-17","2024-04-18","2024-04-19","2024-04-22","2024-04-23","2024-04-24","2024-04-26","2024-04-29","2024-05-01","2024-05-02","2024-05-03","2024-05-06","2024-05-07","2024-05-08","2024-05-09","2024-05-10","2024-05-13","2024-05-14","2024-05-15","2024-05-16","2024-05-17","2024-05-20","2024-05-21","2024-05-22","2024-05-23","2024-05-24","2024-05-27","2024-05-28","2024-05-29","2024-05-30","2024-05-31","2024-06-03","2024-06-04","2024-06-05","2024-06-06","2024-06-07","2024-06-11","2024-06-12","2024-06-13","2024-06-14","2024-06-17","2024-06-18","2024-06-19","2024-06-20","2024-06-21","2024-06-24","2024-06-25","2024-07-01","2024-07-02","2024-07-03","2024-07-04","2024-07-05","2024-07-08","2024-07-09","2024-07-10","2024-07-11","2024-07-12","2024-07-15","2024-07-16","2024-07-17","2024-07-18","2024-07-19","2024-07-22","2024-07-23","2024-07-24","2024-07-25","2024-07-26","2024-07-29","2024-08-01","2024-08-02","2024-08-05","2024-08-06","2024-08-07","2024-08-08","2024-08-09","2024-08-12","2024-08-13","2024-08-14","2024-08-15","2024-08-16","2024-08-19","2024-08-20","2024-08-21","2024-08-22","2024-08-23","2024-08-26"],"range":[-2.3,948.9],"paddingInner":0,"paddingOuter":0},
"axis":{"orient":"top","labels":false,"ticks":false,"domain":true,"domainColor":"#555555"}},
"y":{"field":"v","type":"quantitative","scale":{"domain":[-290000,11450000],"nice":false,"zero":false},"axis":{"orient":"right","values":[0,5000000,10000000],"labelExpr":"datum.value == 0 ? '0' : (datum.value / 1000000) + 'M'","tickSize":3,"tickColor":"#9a9a9a","domainColor":"#9a9a9a","labelAlign":"right","labelPadding":43,"labelBaseline":"middle"}},
"y2":{"datum":0}
}
}
]
}
